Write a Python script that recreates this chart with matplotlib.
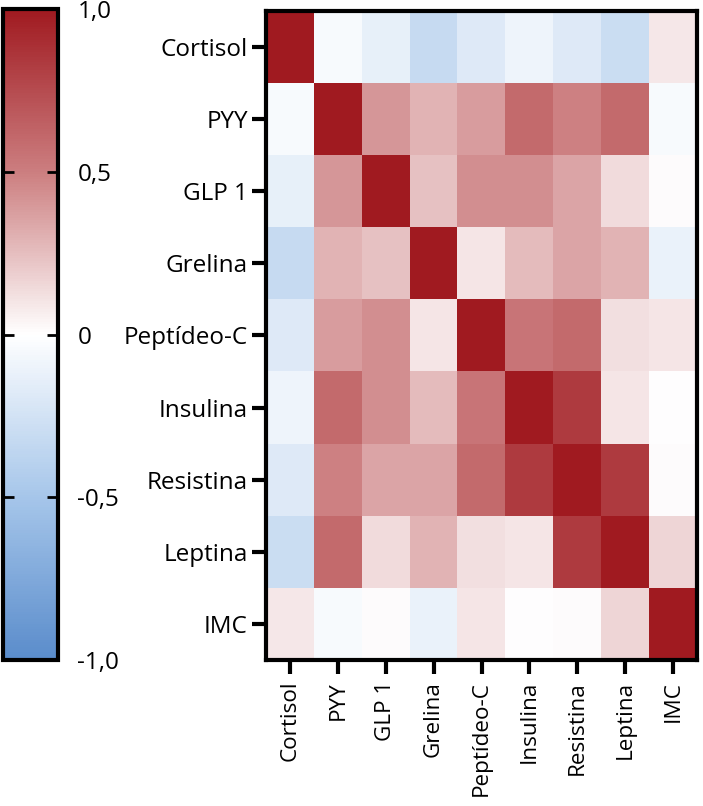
import numpy as np
import matplotlib
matplotlib.use("Agg")
import matplotlib.pyplot as plt
from matplotlib.colors import LinearSegmentedColormap

plt.rcParams['font.family'] = ['Open Sans', 'DejaVu Sans']

# Variables in the correlation matrix
categories = ['Cortisol', 'PYY', 'GLP 1', 'Grelina', 'Peptídeo-C',
              'Insulina', 'Resistina', 'Leptina', 'IMC']

# Correlation values (rows top to bottom)
correlations = [
    [1.00, -0.04, -0.13, -0.32, -0.18, -0.09, -0.18, -0.29, 0.09],
    [-0.04, 1.00, 0.40, 0.29, 0.38, 0.60, 0.49, 0.60, -0.04],
    [-0.13, 0.40, 1.00, 0.24, 0.43, 0.43, 0.35, 0.14, 0.01],
    [-0.32, 0.29, 0.24, 1.00, 0.10, 0.26, 0.35, 0.29, -0.11],
    [-0.18, 0.38, 0.43, 0.10, 1.00, 0.54, 0.60, 0.12, 0.10],
    [-0.09, 0.60, 0.43, 0.26, 0.54, 1.00, 0.83, 0.10, 0.00],
    [-0.18, 0.49, 0.35, 0.35, 0.60, 0.83, 1.00, 0.83, 0.01],
    [-0.29, 0.60, 0.14, 0.29, 0.12, 0.10, 0.83, 1.00, 0.16],
    [0.09, -0.04, 0.01, -0.11, 0.10, 0.00, 0.01, 0.16, 1.00],
]
cbar_ticks = [-1.0, -0.5, 0.0, 0.5, 1.0]
cbar_labels = ['-1,0', '-0,5', '0', '0,5', '1,0']

cmap = LinearSegmentedColormap.from_list(
    'bwr_custom',
    [(0.0, '#5a8ccb'), (0.25, '#a6c6ea'), (0.5, '#ffffff'),
     (0.75, '#cc7e80'), (1.0, '#a01a20')])

W, H = 703, 806
fig = plt.figure(figsize=(W / 100, H / 100), dpi=100)
fs = 17.5

# heatmap axes
ax = fig.add_axes([266 / W, 1 - 660 / H, (697 - 266) / W, (660 - 11) / H])
data = np.array(correlations)
im = ax.imshow(data, cmap=cmap, vmin=-1, vmax=1, aspect='auto',
               interpolation='nearest')
n = len(categories)
ax.set_xticks(np.arange(n))
ax.set_yticks(np.arange(n))
ax.set_xticklabels(categories, rotation=90, fontsize=16.2)
ax.set_yticklabels(categories, fontsize=fs)
ax.tick_params(axis='both', length=10, width=3, direction='out')
ax.tick_params(axis='x', pad=5)
ax.tick_params(axis='y', pad=3)
for sp in ax.spines.values():
    sp.set_linewidth(3)

# colorbar axes on the left
cax = fig.add_axes([3 / W, 1 - 660 / H, (58 - 3) / W, (660 - 9) / H])
cb = fig.colorbar(im, cax=cax, ticks=cbar_ticks)
cb.ax.set_yticklabels(cbar_labels, fontsize=fs)
cb.outline.set_linewidth(3)
cax.tick_params(axis='y', which='both', direction='in', length=8, width=2,
                left=True, right=True, labelleft=False, labelright=True, pad=14)

fig.savefig('out.png', dpi=100)
